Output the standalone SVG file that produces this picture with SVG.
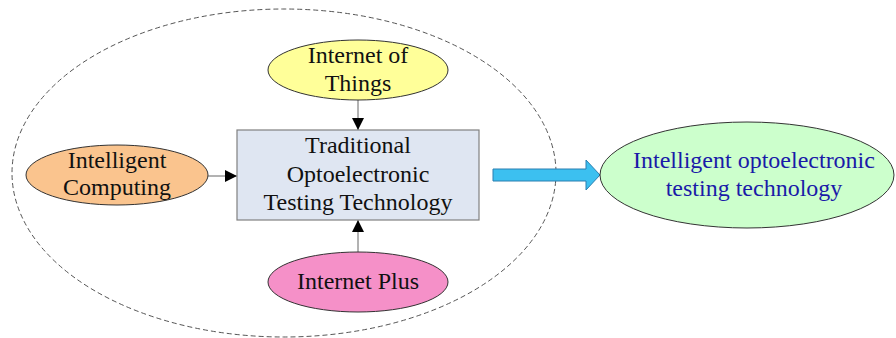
<svg xmlns="http://www.w3.org/2000/svg" width="896" height="338" viewBox="0 0 896 338">
<defs>
<style>
.t{font-family:"Liberation Serif","Times New Roman",serif;font-size:24px;fill:#111;text-anchor:middle}
.e{stroke:#333;stroke-width:1}
.c{stroke:#666;stroke-width:1;fill:none}
</style>
<marker id="ah" viewBox="0 0 12 12" refX="12" refY="6" markerWidth="12" markerHeight="12" markerUnits="userSpaceOnUse" orient="auto">
<path d="M0,0 L12,6 L0,12 Z" fill="#000"/>
</marker>
</defs>
<rect width="896" height="338" fill="#fff"/>
<ellipse cx="284" cy="173" rx="272" ry="164" fill="none" stroke="#555" stroke-width="1" stroke-dasharray="5,3"/>
<g id="connectors">
<line class="c" x1="358" y1="100" x2="358" y2="130" marker-end="url(#ah)"/>
<line class="c" x1="208" y1="176" x2="237" y2="176" marker-end="url(#ah)"/>
<line class="c" x1="358" y1="252" x2="358" y2="220" marker-end="url(#ah)"/>
<path d="M493,169 L586,169 L586,160 L600,175 L586,190 L586,181 L493,181 Z" fill="#3cc0f0" stroke="#2a7fb0" stroke-width="1"/>
</g>
<g id="iot">
<ellipse class="e" cx="358" cy="70" rx="90" ry="30" fill="#ffff99"/>
<text class="t" x="358" y="63">Internet of</text>
<text class="t" x="358" y="91">Things</text>
</g>
<g id="computing">
<ellipse class="e" cx="117" cy="175" rx="91" ry="30" fill="#fac48e"/>
<text class="t" x="117" y="168">Intelligent</text>
<text class="t" x="117" y="195">Computing</text>
</g>
<g id="plus">
<ellipse class="e" cx="358" cy="282" rx="90" ry="30" fill="#f590c8"/>
<text class="t" x="358" y="289">Internet Plus</text>
</g>
<g id="traditional">
<rect x="237" y="130" width="242" height="90" fill="#dfe6f2" stroke="#808080" stroke-width="1.2"/>
<text class="t" x="358" y="153">Traditional</text>
<text class="t" x="358" y="182">Optoelectronic</text>
<text class="t" x="358" y="210">Testing Technology</text>
</g>
<g id="intelligent">
<ellipse class="e" cx="747" cy="175" rx="147" ry="53" fill="#ccffcc"/>
<text class="t" x="754" y="168" style="fill:#1a1aa8">Intelligent optoelectronic</text>
<text class="t" x="754" y="196" style="fill:#1a1aa8">testing technology</text>
</g>
</svg>
